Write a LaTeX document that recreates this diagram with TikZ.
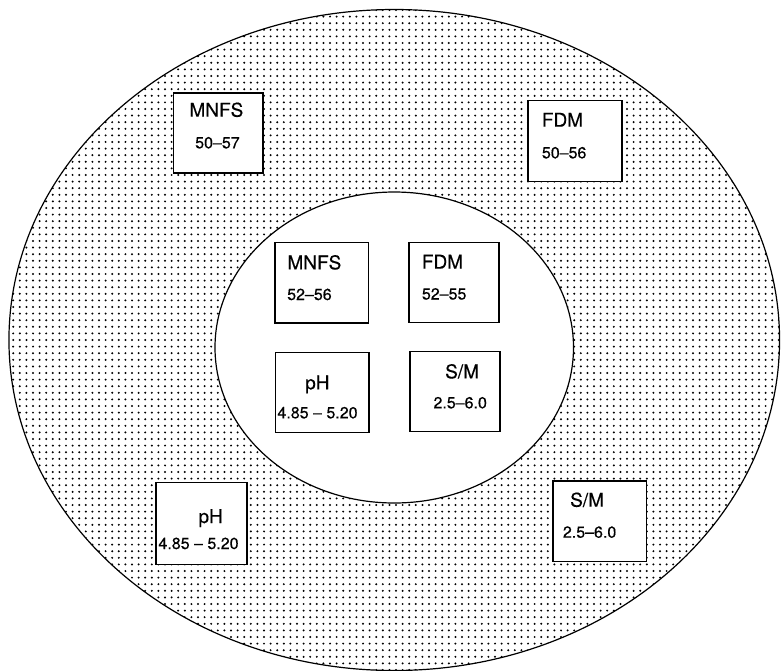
\documentclass[tikz,border=0pt]{standalone}
\usepackage{fontspec}
\setmainfont{TeX Gyre Heros}[FakeBold=0.4]
\usetikzlibrary{patterns.meta}

\tikzset{
  ring/.style={line width=1.2pt},
  box/.style={draw, line width=1.4pt, fill=white, rectangle, inner sep=0pt},
  lab/.style={anchor=base west, inner sep=0pt, font=\fontsize{19}{21}\selectfont},
  num/.style={anchor=base west, inner sep=0pt, font=\fontsize{16}{18}\selectfont},
}

\begin{document}
\begin{tikzpicture}[x=1pt,y=-1pt]
  \useasboundingbox (0,0) rectangle (781,670);

  % stippled ring between the two ellipses
  \fill[pattern={Dots[distance=6.6pt, radius=1.1pt]}, even odd rule]
    (394.25,340) ellipse [x radius=385.3, y radius=330.5]
    (394.25,347.5) ellipse [x radius=179.25, y radius=155.5];
  \draw[ring] (394.25,340) ellipse [x radius=385.3, y radius=330.5];
  \draw[ring] (394.25,347.5) ellipse [x radius=179.25, y radius=155.5];

  % outer ring boxes
  \node[box, minimum width=89.5pt, minimum height=80pt] (oMNFS) at (218.25,133) {};
  \node[box, minimum width=94pt, minimum height=80.5pt] (oFDM) at (575,141) {};
  \node[box, minimum width=90.8pt, minimum height=82pt] (oPH) at (201.4,523.5) {};
  \node[box, minimum width=93.5pt, minimum height=80.5pt] (oSM) at (599.75,521.25) {};

  % inner core boxes
  \node[box, minimum width=93.5pt, minimum height=80.3pt] (iMNFS) at (321.75,282.85) {};
  \node[box, minimum width=90pt, minimum height=80pt] (iFDM) at (454,282.6) {};
  \node[box, minimum width=93.5pt, minimum height=80pt] (iPH) at (322.25,392.6) {};
  \node[box, minimum width=90pt, minimum height=80pt] (iSM) at (455,391.7) {};

  % labels and ranges
  \node[lab] (oMNFSl) at (189.3,116.7) {MNFS};
  \node[num] (oMNFSn) at (195,148.3) {50–57};
  \node[lab] (oFDMl) at (541.7,126.7) {FDM};
  \node[num] (oFDMn) at (541.7,158.3) {50–56};
  \node[lab] (oPHl) at (198.3,523) {pH};
  \node[num] (oPHn) at (158.3,549) {4.85 – 5.20};
  \node[lab] (oSMl) at (570,506.7) {S/M};
  \node[num] (oSMn) at (562.7,537.7) {2.5–6.0};

  \node[lab] (iMNFSl) at (287.3,269.3) {MNFS};
  \node[num] (iMNFSn) at (287,300) {52–56};
  \node[lab] (iFDMl) at (421.7,268.6) {FDM};
  \node[num] (iFDMn) at (421.7,299.5) {52–55};
  \node[lab] (iPHl) at (305,389.3) {pH};
  \node[num] (iPHn) at (277.3,418.3) {4.85 – 5.20};
  \node[lab] (iSMl) at (445,378.3) {S/M};
  \node[num] (iSMn) at (433.3,408.3) {2.5–6.0};
\end{tikzpicture}
\end{document}
